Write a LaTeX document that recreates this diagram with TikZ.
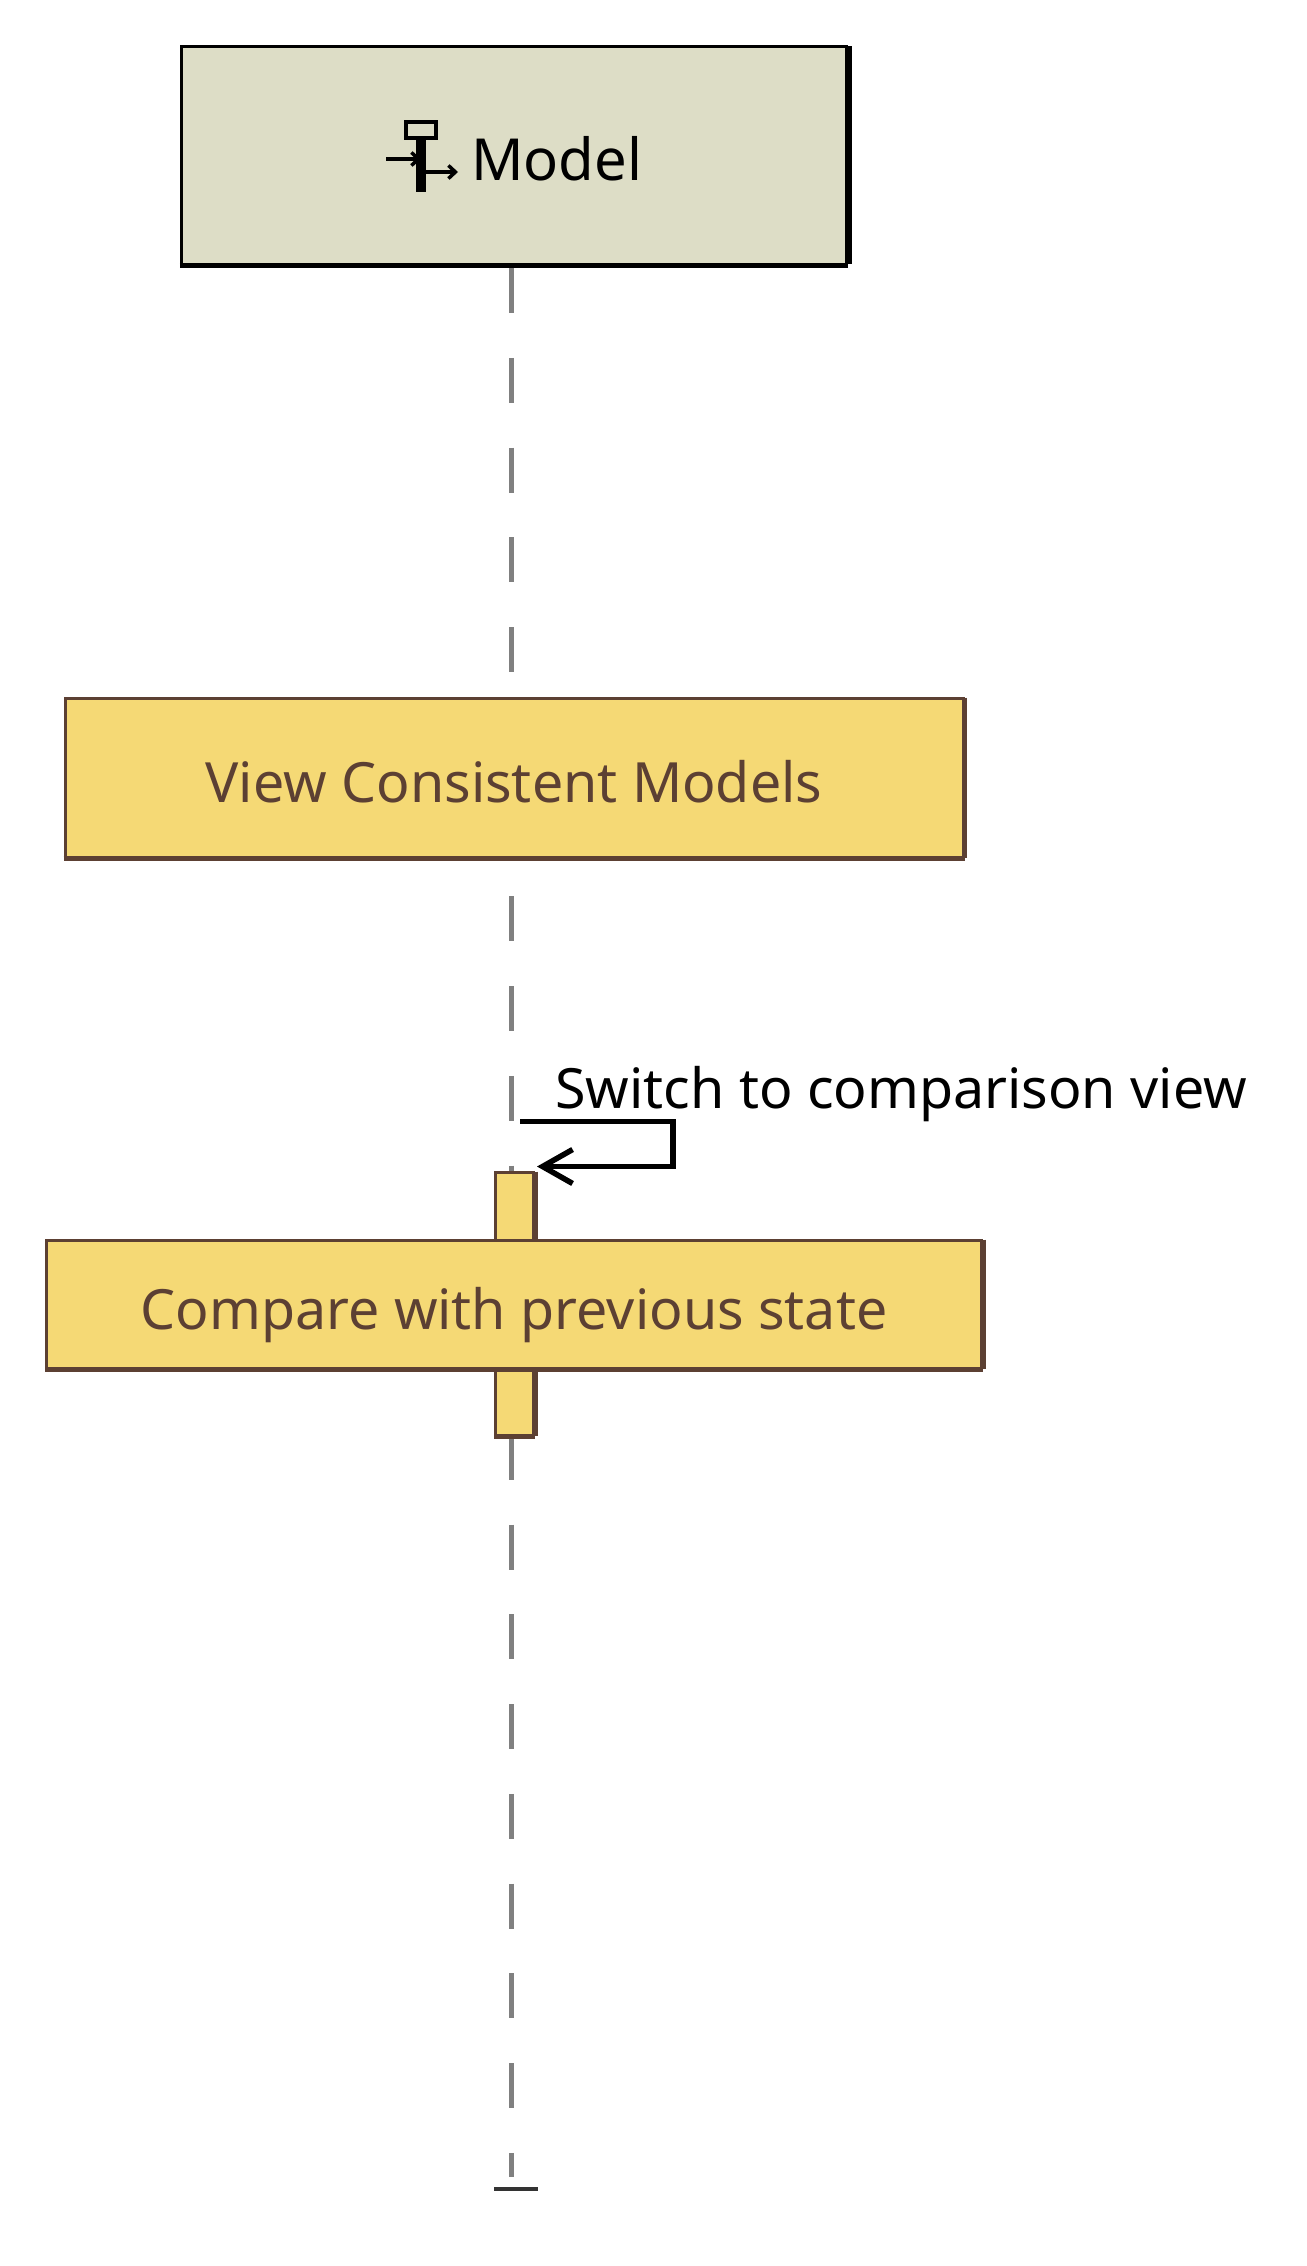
\documentclass[tikz,border=0pt]{standalone}
\usepackage{fontspec}
\setmainfont{Noto Sans}
\usetikzlibrary{arrows.meta,positioning}
\definecolor{modelfill}{RGB}{221,221,198}
\definecolor{fragfill}{RGB}{245,217,117}
\definecolor{fragline}{RGB}{92,64,51}
\definecolor{lifegrey}{RGB}{128,128,128}
\begin{document}
\begin{tikzpicture}[x=1pt,y=-1pt,
	modelbox/.style={draw=black,line width=3.5pt,fill=modelfill,minimum width=665pt,minimum height=218pt,inner sep=0pt},
	fragbox/.style={draw=fragline,line width=3pt,fill=fragfill,inner sep=0pt,text=fragline,text height=49pt,text depth=0pt,font=\fontsize{55.5}{55.5}\selectfont},
	lifeline/.style={draw=lifegrey,line width=4.5pt,dash pattern=on 45pt off 44.75pt},
	msg/.style={draw=black,line width=5.5pt}]
	\useasboundingbox (0,0) rectangle (1306,2266);
	\coordinate (lifetop) at (511.5,268);
	\coordinate (lifeend) at (511.5,2177);
	\draw[lifeline] (lifetop) to (lifeend);
	\node[modelbox] (model) at (514,155.5) {};
	\draw[black,line width=4pt] ([xshift=1.5pt,yshift=-1.5pt]model.north east) to ([xshift=1.5pt,yshift=2.5pt]model.south east);
	\draw[black,line width=5pt] ([yshift=1pt]model.south west) to ([yshift=1pt]model.south east);
	\node[fragbox,minimum width=898pt,minimum height=160pt] (view) at (514,778) {View Consistent Models};
	\node[fragbox,minimum width=38pt,minimum height=264pt] (act) at (514.5,1304) {};
	% heavier lower and right edges
	\foreach \b in {view,act} {
		\draw[fragline,line width=3pt] ([xshift=1pt,yshift=-1pt]\b.north east) to ([xshift=1pt,yshift=2pt]\b.south east);
		\draw[fragline,line width=5pt] ([yshift=1pt]\b.south west) to ([yshift=1pt]\b.south east);
	}
	\node[fragbox,minimum width=935pt,minimum height=129pt] (compare) at (514,1304.5) {Compare with previous state};
	\draw[fragline,line width=3pt] ([xshift=1pt,yshift=-1pt]compare.north east) to ([xshift=1pt,yshift=2pt]compare.south east);
	\draw[fragline,line width=5pt] ([yshift=1pt]compare.south west) to ([yshift=1pt]compare.south east);
	% icon
	\node[draw=black,line width=4.5pt,fill=modelfill,minimum width=30pt,minimum height=16pt,inner sep=0pt] (iconhead) at (421,130) {};
	\coordinate (iconfoot) at (421,192);
	\coordinate (iconin) at (386,159);
	\coordinate (iconout) at (458,172);
	\draw[black,line width=10pt] (iconhead.south) to (iconfoot);
	\draw[black,line width=3.5pt,-{Straight Barb[length=7pt,width=13pt]}] (iconin) to (iconhead.south |- iconin);
	\draw[black,line width=3.5pt,-{Straight Barb[length=7pt,width=13pt]}] (iconhead.south |- iconout) to (iconout);
	\node[anchor=base west,inner sep=0pt,font=\fontsize{58}{58}\selectfont] (modeltxt) at (471,181) {Model};
	% self message
	\coordinate (msgstart) at (520,1121.5);
	\coordinate (msgend) at (537,1166.5);
	\coordinate (msgturn) at (673,1121.5);
	\draw[msg,-{Straight Barb[length=30pt,width=34pt,line width=5.5pt]}] (msgstart) to (msgturn) to (msgturn |- msgend) to (msgend);
	\node[anchor=base west,inner sep=0pt,font=\fontsize{55.5}{55.5}\selectfont] (msglabel) at (555,1108) {Switch to comparison view};
	% end of the lifeline
	\coordinate (endl) at (494,2189);
	\coordinate (endr) at (538,2189);
	\draw[black!80,line width=3.5pt] (endl) to (endr);
\end{tikzpicture}
\end{document}
